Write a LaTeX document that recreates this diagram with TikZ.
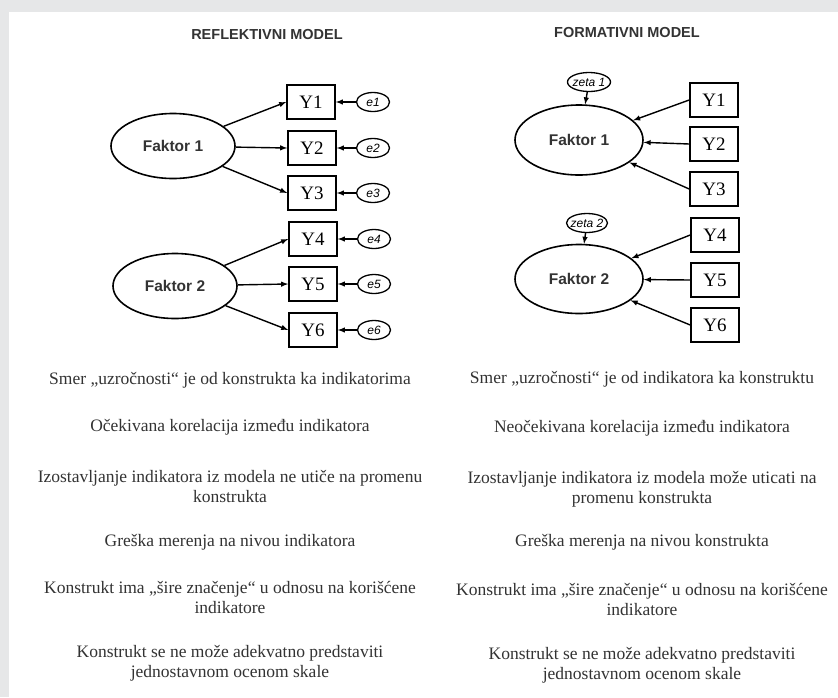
\documentclass[tikz,border=0pt]{standalone}
\usepackage{fontspec}
\setmainfont{Liberation Serif}
\setsansfont{Liberation Sans}
\usetikzlibrary{shapes.geometric}
\definecolor{framegray}{HTML}{E6E7E8}
\definecolor{inkgray}{HTML}{333333}
\tikzset{
  latent/.style={draw, ellipse, line width=1.6pt, minimum width=124pt, minimum height=65pt, inner sep=0pt, font=\sffamily\bfseries\fontsize{15.5}{17}\selectfont, text=inkgray},
  indic/.style={draw, rectangle, line width=1.6pt, minimum width=48pt, minimum height=34pt, inner sep=0pt, font=\fontsize{19}{21}\selectfont},
  errvar/.style={draw, ellipse, line width=1.3pt, minimum width=33pt, minimum height=19pt, inner sep=0pt, font=\sffamily\itshape\fontsize{12}{13}\selectfont},
  load/.style={-latex, line width=1.4pt},
  heading/.style={font=\sffamily\bfseries\fontsize{14.5}{16}\selectfont, text=inkgray},
  note/.style={align=center, font=\fontsize{17.5}{20}\selectfont, text=inkgray}
}
\begin{document}
\begin{tikzpicture}[x=1pt,y=-1pt]
  \useasboundingbox (0,0) rectangle (838,697);
  \fill[framegray] (0,0) rectangle (838,697);
  \fill[white] (9,12) rectangle (838,697);
  % titles
  \node[heading] (reftitle) at (267,35) {REFLEKTIVNI MODEL};
  \node[heading] (formtitle) at (627,33) {FORMATIVNI MODEL};
  % reflective model
  \node[latent] (rf1) at (173,146) {Faktor 1};
  \node[latent] (rf2) at (175,286) {Faktor 2};
  \node[indic] (ry1) at (311,102) {Y1};
  \node[indic] (ry2) at (312,148) {Y2};
  \node[indic] (ry3) at (312,193) {Y3};
  \node[indic] (ry4) at (313,239) {Y4};
  \node[indic] (ry5) at (313,284) {Y5};
  \node[indic] (ry6) at (313,330) {Y6};
  \node[errvar] (e1) at (373,102) {e1};
  \node[errvar] (e2) at (373,148) {e2};
  \node[errvar] (e3) at (373,193) {e3};
  \node[errvar] (e4) at (374,239) {e4};
  \node[errvar] (e5) at (374,284) {e5};
  \node[errvar] (e6) at (374,330) {e6};
  \draw[load] (rf1) -- (ry1.west); % F1 -- Y1
  \draw[load] (rf1) -- (ry2.west); % F1 -- Y2
  \draw[load] (rf1) -- (ry3.west); % F1 -- Y3
  \draw[load] (rf2) -- (ry4.west); % F2 -- Y4
  \draw[load] (rf2) -- (ry5.west); % F2 -- Y5
  \draw[load] (rf2) -- (ry6.west); % F2 -- Y6
  \draw[load] (e1) -- (ry1); % e1 -- Y1
  \draw[load] (e2) -- (ry2); % e2 -- Y2
  \draw[load] (e3) -- (ry3); % e3 -- Y3
  \draw[load] (e4) -- (ry4); % e4 -- Y4
  \draw[load] (e5) -- (ry5); % e5 -- Y5
  \draw[load] (e6) -- (ry6); % e6 -- Y6
  % formative model
  \node[latent, minimum width=128pt, minimum height=70pt] (ff1) at (579,140) {Faktor 1};
  \node[latent, minimum width=128pt, minimum height=69pt] (ff2) at (579,279) {Faktor 2};
  \node[errvar, minimum width=43pt, inner xsep=-4pt] (zeta1) at (589,82) {zeta 1};
  \node[errvar, minimum width=41pt, inner xsep=-4pt] (zeta2) at (587,223) {zeta 2};
  \node[indic] (fy1) at (714,100) {Y1};
  \node[indic] (fy2) at (714,144) {Y2};
  \node[indic] (fy3) at (714,189) {Y3};
  \node[indic] (fy4) at (715,235) {Y4};
  \node[indic] (fy5) at (715,280) {Y5};
  \node[indic] (fy6) at (715,325) {Y6};
  \draw[load] (fy1.west) -- (ff1); % Y1 -- F1
  \draw[load] (fy2.west) -- (ff1); % Y2 -- F1
  \draw[load] (fy3.west) -- (ff1); % Y3 -- F1
  \draw[load] (fy4.west) -- (ff2); % Y4 -- F2
  \draw[load] (fy5.west) -- (ff2); % Y5 -- F2
  \draw[load] (fy6.west) -- (ff2); % Y6 -- F2
  \draw[load] (zeta1) -- (ff1); % zeta1 -- F1
  \draw[load] (zeta2) -- (ff2); % zeta2 -- F2
  % notes, reflective
  \node[note] (rn1) at (230,380) {Smer „uzročnosti“ je od konstrukta ka indikatorima};
  \node[note] (rn2) at (230,427) {Očekivana korelacija između indikatora};
  \node[note] (rn3) at (230,486) {Izostavljanje indikatora iz modela ne utiče na promenu\\ konstrukta};
  \node[note] (rn4) at (230,542) {Greška merenja na nivou indikatora};
  \node[note] (rn5) at (230,597) {Konstrukt ima „šire značenje“ u odnosu na korišćene\\ indikatore};
  \node[note] (rn6) at (230,663) {Konstrukt se ne može adekvatno predstaviti\\ jednostavnom ocenom skale};
  % notes, formative
  \node[note] (fn1) at (642,379) {Smer „uzročnosti“ je od indikatora ka konstruktu};
  \node[note] (fn2) at (642,428) {Neočekivana korelacija između indikatora};
  \node[note] (fn3) at (642,489) {Izostavljanje indikatora iz modela može uticati na\\ promenu konstrukta};
  \node[note] (fn4) at (642,542) {Greška merenja na nivou konstrukta};
  \node[note] (fn5) at (642,599) {Konstrukt ima „šire značenje“ u odnosu na korišćene\\ indikatore};
  \node[note] (fn6) at (642,665) {Konstrukt se ne može adekvatno predstaviti\\ jednostavnom ocenom skale};
\end{tikzpicture}
\end{document}
